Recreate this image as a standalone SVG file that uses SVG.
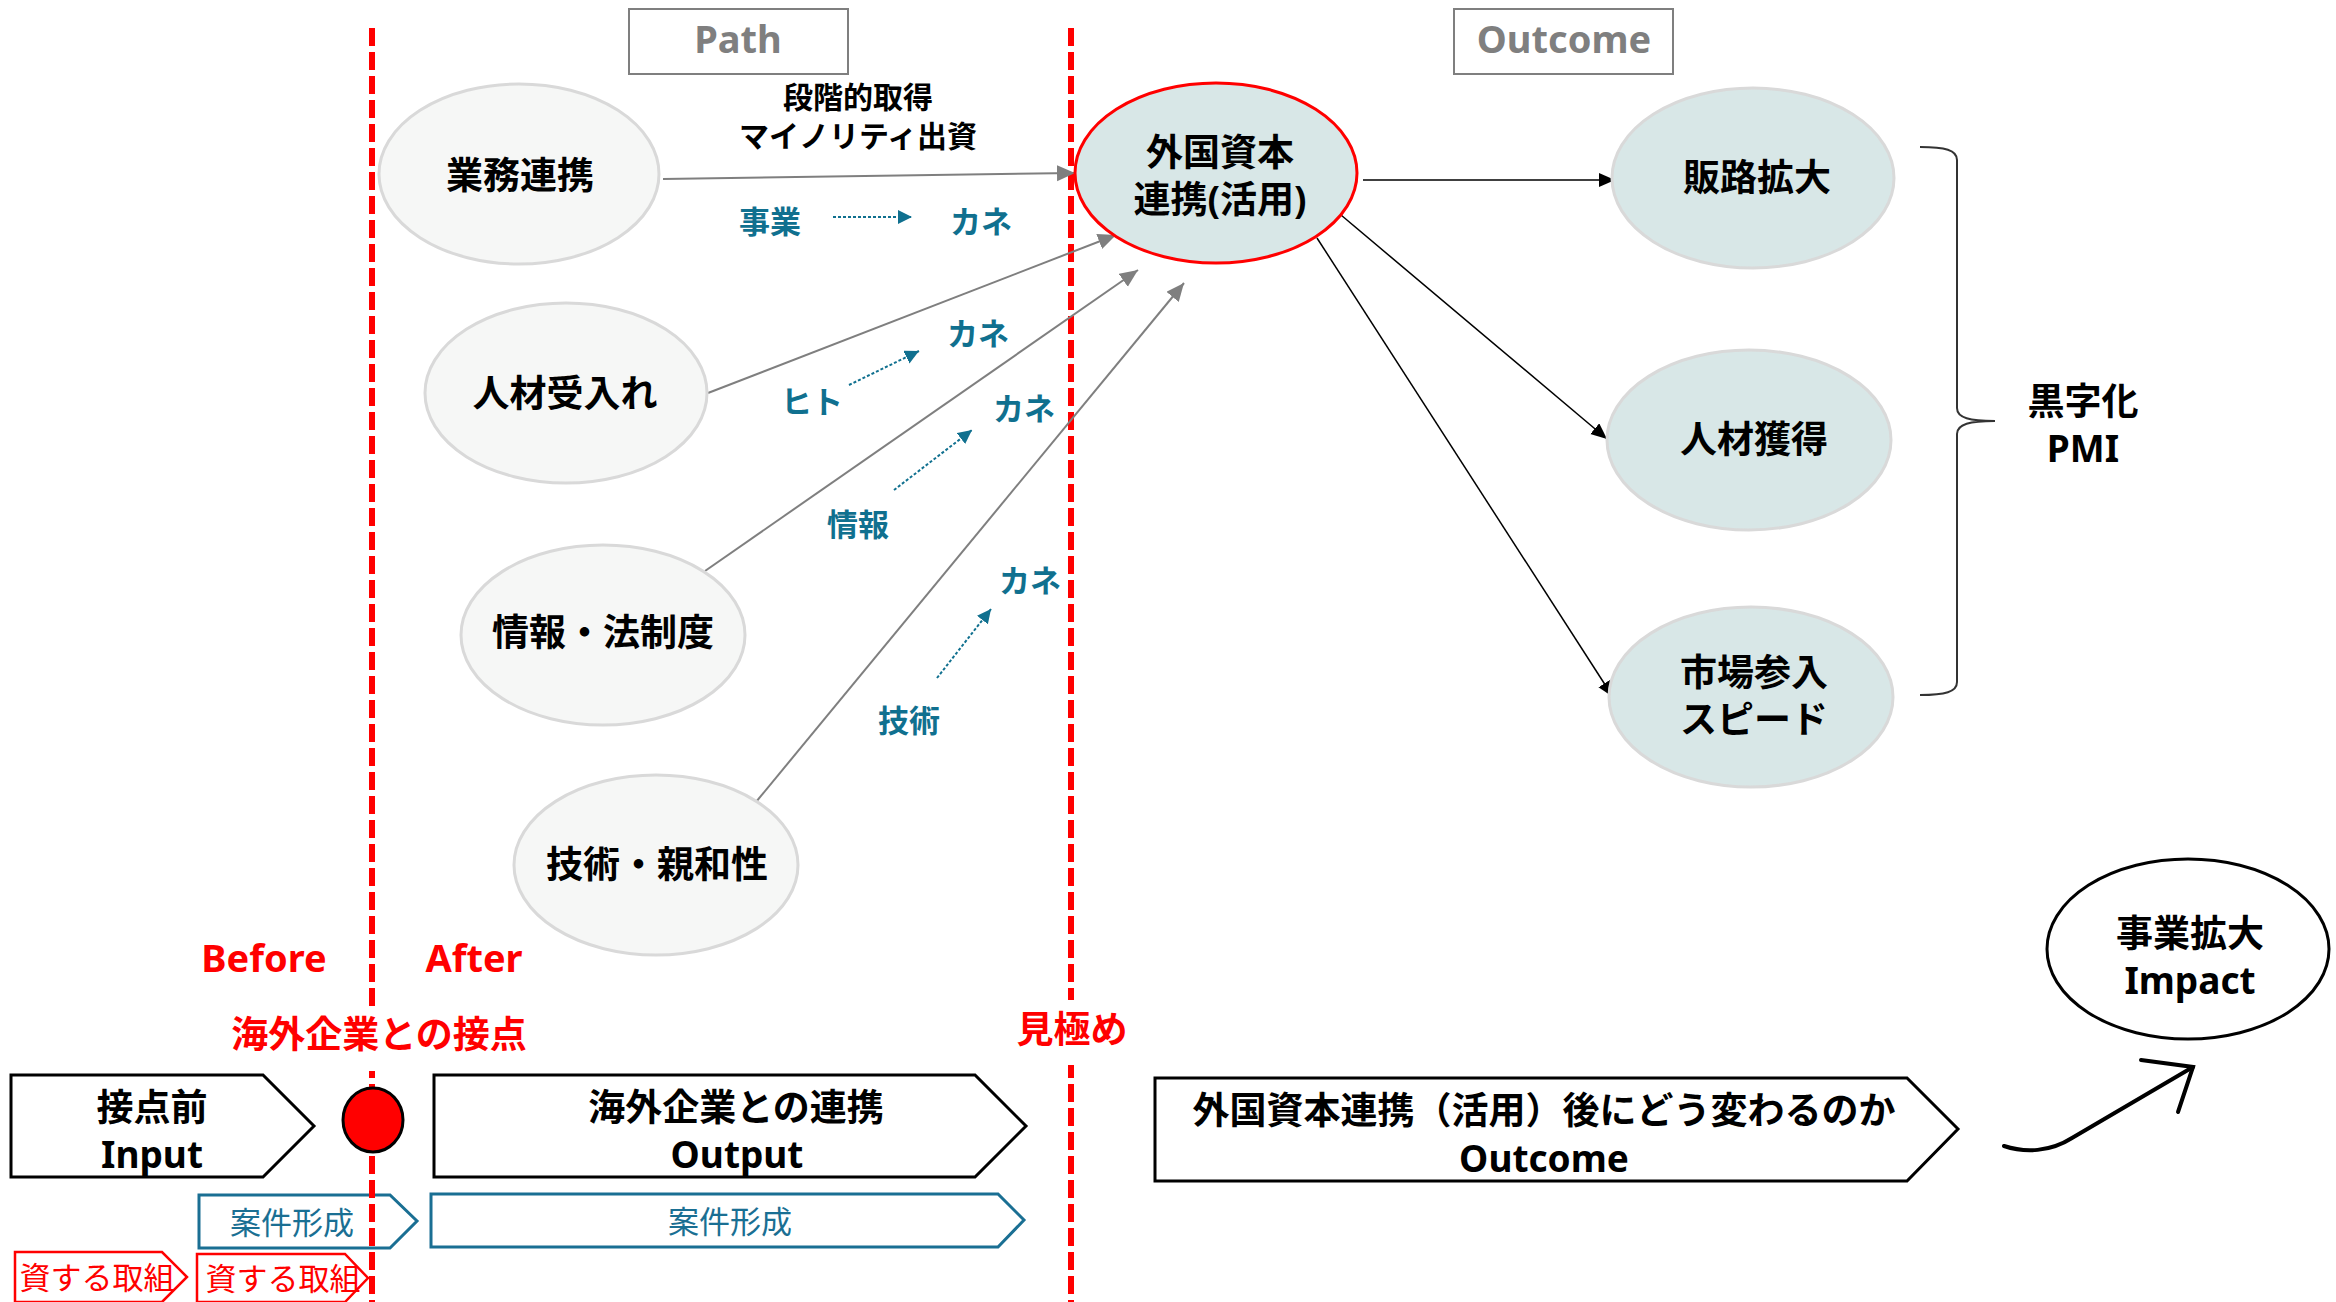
<svg xmlns="http://www.w3.org/2000/svg" width="2336" height="1302" viewBox="0 0 2336 1302">
<style>
text{font-family:"Noto Sans","Noto Sans CJK JP",sans-serif;text-anchor:middle;dominant-baseline:central}
.b{font-weight:bold}
.node{font-size:37px;font-weight:bold;fill:#000}
.gray{fill:#f6f7f6;stroke:#d9d9d9;stroke-width:3}
.teal{fill:#d8e7e7;stroke:#d9d9d9;stroke-width:3}
.lbl{font-size:31px;font-weight:bold;fill:#10708f}
.red{fill:#ff0000}
.chev{fill:#fff;stroke:#000;stroke-width:3}
.tchev{fill:#fff;stroke:#1a6f93;stroke-width:3}
.rchev{fill:#fff;stroke:#ff0000;stroke-width:2.5}
.dash{stroke:#ff0000;stroke-width:6;stroke-dasharray:18 6;fill:none}
.gl{stroke:#7f7f7f;stroke-width:2;fill:none}
.bl{stroke:#000;stroke-width:1.5;fill:none}
.tl{stroke:#10708f;stroke-width:2;stroke-dasharray:3 2;fill:none}
</style>
<defs>
<marker id="ag" markerUnits="userSpaceOnUse" markerWidth="20" markerHeight="18" refX="18" refY="8" orient="auto"><path d="M0,0 L18,8 L0,16 Z" fill="#7f7f7f"/></marker>
<marker id="ab" markerUnits="userSpaceOnUse" markerWidth="18" markerHeight="16" refX="16" refY="7" orient="auto"><path d="M0,0 L16,7 L0,14 Z" fill="#000"/></marker>
<marker id="at" markerUnits="userSpaceOnUse" markerWidth="16" markerHeight="16" refX="14" refY="7" orient="auto"><path d="M0,0 L14,7 L0,14 Z" fill="#10708f"/></marker>
</defs>
<rect width="2336" height="1302" fill="#fff"/>

<!-- headers -->
<g id="path-header">
<rect x="629" y="9" width="219" height="65" fill="#fff" stroke="#7f7f7f" stroke-width="2"/>
<text x="738" y="38" class="b" font-size="38" fill="#7f7f7f">Path</text>
</g>
<g id="outcome-header">
<rect x="1454" y="9" width="219" height="65" fill="#fff" stroke="#7f7f7f" stroke-width="2"/>
<text x="1564" y="38" class="b" font-size="38" fill="#7f7f7f">Outcome</text>
</g>

<!-- bottom chevrons (under dashed lines) -->
<g id="anken1"><path class="tchev" d="M199,1195 L390,1195 L417,1221 L390,1248 L199,1248 Z"/><text x="292" y="1222" font-size="31" fill="#1a6f93">案件形成</text></g>
<g id="anken2"><path class="tchev" d="M431,1194 L998,1194 L1024,1220 L998,1247 L431,1247 Z"/><text x="730" y="1221" font-size="31" fill="#1a6f93">案件形成</text></g>
<g id="shisuru1"><path class="rchev" d="M15,1252 L162,1252 L187,1277 L162,1302 L15,1302 Z"/><text x="97" y="1277" font-size="31" fill="#ff0000">資する取組</text></g>
<g id="shisuru2"><path class="rchev" d="M197,1254 L345,1254 L368,1278 L345,1302 L197,1302 Z"/><text x="283" y="1278" font-size="31" fill="#ff0000">資する取組</text></g>

<!-- dashed lines -->
<g id="dividers">
<path class="dash" d="M372,28 V1302"/>
<path class="dash" d="M1071,28 V1302"/>
</g>

<!-- connectors -->
<g id="connectors">
<path class="gl" d="M663,179 L1075,173" marker-end="url(#ag)"/>
<path class="gl" d="M708,393 L1116,235" marker-end="url(#ag)"/>
<path class="gl" d="M705,571 L1138,270" marker-end="url(#ag)"/>
<path class="gl" d="M756,802 L1184,283" marker-end="url(#ag)"/>
<path class="bl" d="M1363,180 L1615,180" marker-end="url(#ab)"/>
<path class="bl" d="M1341,215 L1607,439" marker-end="url(#ab)"/>
<path class="bl" d="M1317,238 L1613,697" marker-end="url(#ab)"/>
<path class="tl" d="M833,217 L912,217" marker-end="url(#at)"/>
<path class="tl" d="M849,385 L919,351" marker-end="url(#at)"/>
<path class="tl" d="M894,490 L972,430" marker-end="url(#at)"/>
<path class="tl" d="M937,678 L991,609" marker-end="url(#at)"/>
<path d="M2004,1146 C2025,1153 2050,1152 2072,1138 L2193,1067" fill="none" stroke="#000" stroke-width="4" stroke-linecap="round"/>
<path d="M2141,1060 L2193,1067 L2178,1112" fill="none" stroke="#000" stroke-width="4" stroke-linecap="round"/>
<path d="M1920,147 C1945,147 1957,150 1957,160 L1957,408 C1957,418 1970,421 1995,421 C1970,421 1957,424 1957,434 L1957,682 C1957,692 1945,695 1920,695" fill="none" stroke="#333" stroke-width="2"/>
</g>

<!-- connector labels -->
<g id="labels">
<text x="858" y="96" class="b" font-size="30">段階的取得</text>
<text x="858" y="135" class="b" font-size="30">マイノリティ出資</text>
<text x="770" y="221" class="lbl">事業</text>
<text x="981" y="221" class="lbl">カネ</text>
<text x="812" y="401" class="lbl">ヒト</text>
<text x="978" y="333" class="lbl">カネ</text>
<text x="858" y="524" class="lbl">情報</text>
<text x="1024" y="408" class="lbl">カネ</text>
<text x="909" y="720" class="lbl">技術</text>
<text x="1030" y="580" class="lbl">カネ</text>
</g>

<!-- input nodes -->
<g id="gyomu"><ellipse class="gray" cx="519" cy="174" rx="140" ry="90"/><text x="520" y="174" class="node">業務連携</text></g>
<g id="jinzai-ukeire"><ellipse class="gray" cx="566" cy="393" rx="141" ry="90"/><text x="565" y="392" class="node">人材受入れ</text></g>
<g id="joho"><ellipse class="gray" cx="603" cy="635" rx="142" ry="90"/><text x="603" y="631" class="node">情報・法制度</text></g>
<g id="gijutsu"><ellipse class="gray" cx="656" cy="865" rx="142" ry="90"/><text x="657" y="863" class="node">技術・親和性</text></g>

<!-- center node -->
<g id="gaikoku"><ellipse cx="1216" cy="173" rx="141" ry="90" fill="#d8e7e7" stroke="#ff0000" stroke-width="3"/><text x="1220" y="151" class="node">外国資本</text><text x="1220" y="198" class="node">連携(活用)</text></g>

<!-- outcome nodes -->
<g id="hanro"><ellipse class="teal" cx="1753" cy="178" rx="141" ry="90"/><text x="1757" y="176" class="node">販路拡大</text></g>
<g id="jinzai-kakutoku"><ellipse class="teal" cx="1749" cy="440" rx="142" ry="90"/><text x="1754" y="438" class="node">人材獲得</text></g>
<g id="shijo"><ellipse class="teal" cx="1751" cy="697" rx="142" ry="90"/><text x="1754" y="671" class="node">市場参入</text><text x="1754" y="718" class="node">スピード</text></g>

<g id="kuroji"><text x="2083" y="400" class="node">黒字化</text><text x="2083" y="447" class="b" font-size="37">PMI</text></g>

<!-- impact -->
<g id="impact"><ellipse cx="2188" cy="949" rx="141" ry="90" fill="#fff" stroke="#000" stroke-width="3"/><text x="2190" y="932" class="node">事業拡大</text><text x="2190" y="979" class="b" font-size="37">Impact</text></g>

<!-- red labels -->
<g id="before"><text x="264" y="957" class="b red" font-size="38">Before</text></g>
<g id="after"><text x="474" y="957" class="b red" font-size="38">After</text></g>
<g id="setten"><rect x="225" y="1006" width="310" height="65" fill="#fff"/><text x="379" y="1033" class="b red" font-size="37">海外企業との接点</text></g>
<g id="mikiwame"><rect x="1010" y="1000" width="124" height="65" fill="#fff"/><text x="1072" y="1028" class="b red" font-size="37">見極め</text></g>

<!-- stage chevrons -->
<g id="input"><path class="chev" d="M11,1075 L263,1075 L314,1126 L263,1177 L11,1177 Z"/><text x="152" y="1106" class="node">接点前</text><text x="152" y="1153" class="b" font-size="37">Input</text></g>
<g id="contact-point"><ellipse cx="373" cy="1120" rx="30" ry="32" fill="#ff0000" stroke="#000" stroke-width="3"/></g>
<g id="output"><path class="chev" d="M434,1075 L975,1075 L1026,1126 L975,1177 L434,1177 Z"/><text x="736" y="1106" class="node">海外企業との連携</text><text x="737" y="1153" class="b" font-size="37">Output</text></g>
<g id="outcome"><path class="chev" d="M1155,1078 L1907,1078 L1958,1129 L1907,1181 L1155,1181 Z"/><text x="1544" y="1109" class="node">外国資本連携（活用）後にどう変わるのか</text><text x="1544" y="1157" class="b" font-size="37">Outcome</text></g>
</svg>
